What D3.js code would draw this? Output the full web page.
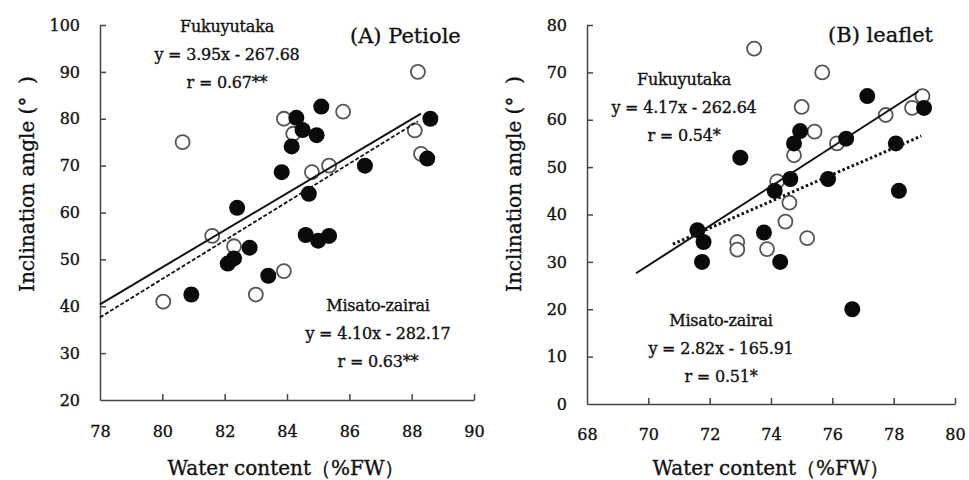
<!DOCTYPE html>
<html>
<head>
<meta charset="utf-8">
<script src="https://cdn.jsdelivr.net/npm/d3@7"></script>
<style>
  html, body { margin: 0; padding: 0; background: #fff; }
  svg { display: block; }
  text { font-family: "DejaVu Serif", "Liberation Serif", serif; fill: #111; stroke: #111; stroke-width: 0.35px; }
</style>
</head>
<body>
<svg id="chart" width="969" height="480"></svg>
<script>
// Panel A (petiole): water content (%FW) vs inclination angle (deg)
const petioleFukuyutaka = [
  [80.65, 75], [83.9, 80], [84.2, 76.8], [84.8, 68.6], [85.35, 70], [85.8, 81.5],
  [88.2, 90], [88.1, 77.5], [88.3, 72.5], [81.6, 55], [82.3, 52.8], [83.9, 47.5],
  [83.0, 42.5], [80.03, 41]
];
const petioleMisato = [
  [85.1, 82.6], [84.3, 80.2], [84.5, 77.6], [84.95, 76.5], [84.15, 74.1], [83.83, 68.6],
  [86.5, 70], [84.7, 64], [88.6, 80], [88.5, 71.5], [82.4, 61], [84.6, 55.2],
  [85.0, 54], [85.35, 55], [82.8, 52.5], [82.1, 49.1], [82.3, 50.2], [83.4, 46.5],
  [80.93, 42.5]
];
// Panel B (leaflet)
const leafletFukuyutaka = [
  [73.45, 75], [75.67, 70], [75.0, 62.7], [78.94, 65], [78.6, 62.5], [77.74, 61],
  [75.42, 57.5], [74.75, 52.5], [76.15, 55], [74.2, 47], [74.6, 42.5], [74.47, 38.5],
  [75.18, 35], [72.9, 34.2], [72.9, 32.6], [73.87, 32.7]
];
const leafletMisato = [
  [77.14, 65], [78.99, 62.5], [74.95, 57.6], [74.75, 55], [76.45, 56], [78.07, 55],
  [78.17, 45], [75.86, 47.5], [74.63, 47.5], [74.12, 45], [73.0, 52], [71.6, 36.7],
  [71.8, 34.2], [71.75, 30], [73.77, 36.2], [74.3, 30], [76.65, 20]
];

// Regression fits: [slope, intercept, xStart, xEnd]
const fitPetioleFukuyutaka = [3.95, -267.68, 78, 88.3];
const fitPetioleMisato = [4.10, -282.17, 78, 88.2];
const fitLeafletFukuyutaka = [4.17, -262.64, 69.6, 78.8];
const fitLeafletMisato = [2.82, -165.91, 70.8, 78.9];

// Tick values
const petioleXTicks = [78, 80, 82, 84, 86, 88, 90];
const petioleYTicks = [20, 30, 40, 50, 60, 70, 80, 90, 100];
const leafletXTicks = [68, 70, 72, 74, 76, 78, 80];
const leafletYTicks = [0, 10, 20, 30, 40, 50, 60, 70, 80];

// Annotation text
const petioleNotes = {
  title: "(A) Petiole",
  fuku: ["Fukuyutaka", "y = 3.95x - 267.68", "r = 0.67**"],
  misato: ["Misato-zairai", "y = 4.10x - 282.17", "r = 0.63**"]
};
const leafletNotes = {
  title: "(B) leaflet",
  fuku: ["Fukuyutaka", "y = 4.17x - 262.64", "r = 0.54*"],
  misato: ["Misato-zairai", "y = 2.82x - 165.91", "r = 0.51*"]
};
const xLabel = "Water content\uFF08%FW\uFF09";
const yLabel = "Inclination angle (\u00B0\u00A0\u00A0)";

const svg = d3.select("#chart");

function drawPanel(cfg) {
  const g = svg.append("g");
  const x = d3.scaleLinear().domain(cfg.xDomain).range(cfg.xRange);
  const y = d3.scaleLinear().domain(cfg.yDomain).range(cfg.yRange);

  const axisStyle = sel => {
    sel.select(".domain").attr("stroke", "#444").attr("stroke-width", 1.5);
    sel.selectAll(".tick line").attr("stroke", "#444").attr("stroke-width", 1.5);
    sel.selectAll(".tick text").style("font-size", "16px")
      .style("font-family", '"DejaVu Serif", serif');
  };

  g.append("g")
    .attr("transform", `translate(0,${cfg.yRange[0]})`)
    .call(d3.axisBottom(x).tickValues(cfg.xTicks).tickFormat(d3.format("d"))
      .tickSizeInner(-6).tickSizeOuter(0).tickPadding(cfg.xPad))
    .call(axisStyle)
    .call(s => s.selectAll(".tick").filter(d => d === cfg.xDomain[0]).select("line").remove());

  g.append("g")
    .attr("transform", `translate(${cfg.xRange[0]},0)`)
    .call(d3.axisLeft(y).tickValues(cfg.yTicks).tickFormat(d3.format("d"))
      .tickSizeInner(-6).tickSizeOuter(0).tickPadding(cfg.yPad))
    .call(axisStyle)
    .call(s => s.selectAll(".tick").filter(d => d === cfg.yDomain[0]).select("line").remove());

  // Points: open = Fukuyutaka, filled = Misato-zairai
  g.append("g").selectAll("circle").data(cfg.open).join("circle")
    .attr("cx", d => x(d[0])).attr("cy", d => y(d[1])).attr("r", 7)
    .attr("fill", "#fff").attr("stroke", "#555").attr("stroke-width", 1.8);
  g.append("g").selectAll("circle").data(cfg.filled).join("circle")
    .attr("cx", d => x(d[0])).attr("cy", d => y(d[1])).attr("r", 8)
    .attr("fill", "#0a0a0a");

  const line = d3.line().x(d => x(d[0])).y(d => y(d[1]));
  const fitPts = f => [[f[2], f[0] * f[2] + f[1]], [f[3], f[0] * f[3] + f[1]]];
  g.append("path").attr("d", line(fitPts(cfg.fitFuku)))
    .attr("fill", "none").attr("stroke", "#111").attr("stroke-width", 2);
  g.append("path").attr("d", line(fitPts(cfg.fitMisato)))
    .attr("fill", "none").attr("stroke", "#111")
    .attr("stroke-width", cfg.misatoWidth).attr("stroke-dasharray", cfg.misatoDash);

  // Titles and equations
  g.append("text").attr("x", cfg.titlePos[0]).attr("y", cfg.titlePos[1])
    .style("font-size", "21px").text(cfg.notes.title);
  const block = (lines, cx, y0) => lines.forEach((t, i) =>
    g.append("text").attr("x", cx).attr("y", y0 + i * 28)
      .attr("text-anchor", "middle").style("font-size", "16px")
      .style("letter-spacing", "-0.2px").text(t));
  block(cfg.notes.fuku, cfg.fukuPos[0], cfg.fukuPos[1]);
  block(cfg.notes.misato, cfg.misatoPos[0], cfg.misatoPos[1]);

  // Axis titles
  g.append("text").attr("x", cfg.xLabelPos[0]).attr("y", cfg.xLabelPos[1])
    .attr("text-anchor", "middle").style("font-size", "20px").text(xLabel);
  g.append("text")
    .attr("transform", `translate(${cfg.yLabelPos[0]},${cfg.yLabelPos[1]}) rotate(-90)`)
    .attr("text-anchor", "middle").style("font-size", "20px").text(yLabel);
}

drawPanel({
  xDomain: [78, 90], xRange: [100, 474],
  yDomain: [20, 100], yRange: [400, 25],
  xTicks: petioleXTicks, yTicks: petioleYTicks, xPad: 26, yPad: 20,
  open: petioleFukuyutaka, filled: petioleMisato,
  fitFuku: fitPetioleFukuyutaka, fitMisato: fitPetioleMisato,
  misatoDash: "4 2", misatoWidth: 1.8,
  notes: petioleNotes, titlePos: [350, 43],
  fukuPos: [227, 32], misatoPos: [378, 311],
  xLabelPos: [286, 475], yLabelPos: [34, 184]
});

drawPanel({
  xDomain: [68, 80], xRange: [587, 955],
  yDomain: [0, 80], yRange: [404, 25],
  xTicks: leafletXTicks, yTicks: leafletYTicks, xPad: 25, yPad: 20,
  open: leafletFukuyutaka, filled: leafletMisato,
  fitFuku: fitLeafletFukuyutaka, fitMisato: fitLeafletMisato,
  misatoDash: "2.5 2.5", misatoWidth: 3,
  notes: leafletNotes, titlePos: [828, 42],
  fukuPos: [684, 85], misatoPos: [721, 326],
  xLabelPos: [771, 475], yLabelPos: [521, 184]
});
</script>
</body>
</html>
